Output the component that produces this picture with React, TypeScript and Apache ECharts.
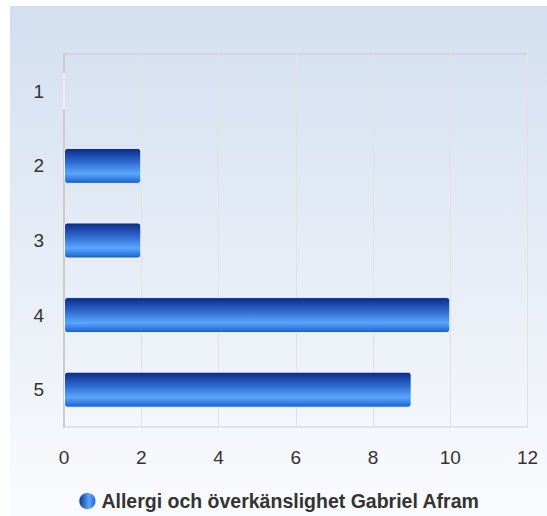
import React, { useEffect, useRef } from "react";
import * as echarts from "echarts";

const categories = ["1", "2", "3", "4", "5"];
const values = [0, 2, 2, 10, 9];
const seriesName = "Allergi och överkänslighet Gabriel Afram";
const xMin = 0;
const xMax = 12;
const xInterval = 2;

export default function App() {
  const ref = useRef<HTMLDivElement>(null);
  useEffect(() => {
    if (!ref.current) return;
    const chart = echarts.init(ref.current, null, { renderer: "svg" });
    const barGradient = new echarts.graphic.LinearGradient(0, 0, 0, 1, [
      { offset: 0, color: "#0a2a86" },
      { offset: 0.35, color: "#2a63c8" },
      { offset: 0.72, color: "#5aa6ff" },
      { offset: 1, color: "#1b5ccc" },
    ]);
    const legendGradient = new echarts.graphic.LinearGradient(0, 0, 1, 0, [
      { offset: 0, color: "#0a2a86" },
      { offset: 0.6, color: "#5aa6ff" },
      { offset: 1, color: "#1b5ccc" },
    ]);
    chart.setOption({
      animation: false,
      backgroundColor: new echarts.graphic.LinearGradient(0, 0, 0, 1, [
        { offset: 0, color: "#d3dff0" },
        { offset: 1, color: "#fafbfd" },
      ]),
      textStyle: { fontFamily: "Liberation Sans, Arial, sans-serif" },
      grid: {
        left: 54,
        top: 48,
        right: 19.5,
        bottom: 89,
        show: true,
        borderColor: "#cccccc",
        borderWidth: 1,
        backgroundColor: "transparent",
      },
      legend: {
        left: "center",
        top: 480,
        itemWidth: 18,
        itemHeight: 18,
        itemGap: 8,
        textStyle: { fontSize: 19.5, fontWeight: "bold", color: "#333333" },
        data: [
          {
            name: seriesName,
            icon: "circle",
            itemStyle: { color: legendGradient },
          },
        ],
      },
      xAxis: {
        type: "value",
        min: xMin,
        max: xMax,
        interval: xInterval,
        axisLine: { show: false },
        axisTick: { show: false },
        axisLabel: { fontSize: 19, color: "#333333", margin: 21 },
        splitLine: { show: true, lineStyle: { color: "#e2e2e2", width: 1 } },
      },
      yAxis: {
        type: "category",
        data: categories,
        inverse: true,
        axisLine: { show: true, lineStyle: { color: "#cccccc", width: 2 } },
        axisTick: { show: false },
        axisLabel: { fontSize: 19, color: "#333333", margin: 20 },
        splitLine: { show: false },
      },
      series: [
        {
          name: seriesName,
          type: "bar",
          data: values,
          barWidth: 36,
          itemStyle: {
            color: barGradient,
            borderRadius: 3,
            borderColor: "rgba(255,255,255,0.85)",
            borderWidth: 1,
          },
        },
      ],
    });
    return () => chart.dispose();
  }, []);
  return (
    <div
      ref={ref}
      style={{ position: "absolute", left: 10, top: 6, width: 537, height: 510 }}
    />
  );
}
